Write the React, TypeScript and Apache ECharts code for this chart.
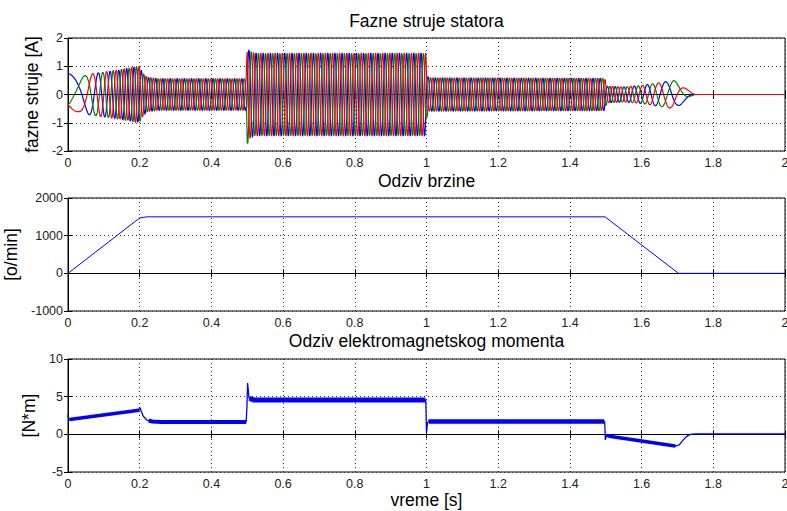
import React, { useEffect, useRef } from "react";
import * as echarts from "echarts";

// ---------- axes / ticks ----------
const xTickValues = [0, 0.2, 0.4, 0.6, 0.8, 1, 1.2, 1.4, 1.6, 1.8, 2];
const xTickLabels = ["0", "0.2", "0.4", "0.6", "0.8", "1", "1.2", "1.4", "1.6", "1.8", "2"];
const currentTicks = [-2, -1, 0, 1, 2];
const speedTicks = [-1000, 0, 1000, 2000];
const torqueTicks = [-5, 0, 5, 10];

// ---------- titles ----------
const titles = ["Fazne struje statora", "Odziv brzine", "Odziv elektromagnetskog momenta"];
const yNames = ["fazne struje [A]", "[o/min]", "[N*m]"];
const xName = "vreme [s]";

// ---------- stator currents ----------
// amplitude envelope of the phase currents [A]
const ampTime = [0, 0.03, 0.06, 0.1, 0.15, 0.19, 0.2, 0.205, 0.22, 0.25, 0.497, 0.5, 0.503, 0.52, 0.998, 1.0, 1.005, 1.497, 1.503, 1.55, 1.6, 1.65, 1.69, 1.71, 1.74, 1.75, 2];
const ampVal = [0.75, 0.6, 0.72, 0.8, 0.9, 1.0, 1.0, 0.85, 0.62, 0.57, 0.57, 1.85, 1.6, 1.48, 1.48, 0.9, 0.6, 0.58, 0.3, 0.27, 0.32, 0.42, 0.5, 0.35, 0.05, 0, 0];
// stator electrical frequency [Hz]
const freqTime = [0, 0.05, 0.1, 0.14, 0.2, 1.5, 1.55, 1.6, 1.65, 1.7, 1.74, 2];
const freqVal = [3, 12, 30, 45, 50, 50, 38, 27, 18, 10, 5, 5];
// phase shifts of the three phases (deg) and their colours
const phaseShift = [0, -120, 120];
const phaseColors = ["#0000ff", "#008000", "#ff0000"];
const phaseNames = ["ia", "ib", "ic"];

// ---------- speed [o/min] ----------
const speedTime = [0, 0.2, 0.22, 1.498, 1.703, 2];
const speedRpm = [0, 1470, 1500, 1500, 0, 0];

// ---------- electromagnetic torque [N*m] ----------
const torqueTime = [0, 0.001, 0.005, 0.198, 0.2, 0.205, 0.21, 0.22, 0.235, 0.26, 0.497, 0.499, 0.501, 0.505, 0.52, 0.998, 1.0, 1.003, 1.01, 1.497, 1.499, 1.502, 1.51, 1.695, 1.705, 1.715, 1.725, 1.735, 1.75, 2];
const torqueNm = [2.6, 2.2, 1.9, 3.2, 3.6, 3.0, 2.4, 1.9, 1.7, 1.65, 1.65, 3.5, 6.8, 4.8, 4.55, 4.55, 0.2, 1.6, 1.7, 1.7, -0.75, -0.1, -0.25, -1.55, -1.4, -0.8, -0.3, 0.0, 0.05, 0.05];
// time spans in which the torque shows switching ripple (drawn as a band) and its band height in px
const rippleSpans = [[0.004, 0.198], [0.225, 0.497], [0.506, 0.997], [1.006, 1.496], [1.504, 1.694]];
const rippleWidths = [3.5, 4, 5, 4.5, 3.5];

function interp(ts: number[], vs: number[], t: number): number {
  if (t <= ts[0]) return vs[0];
  for (let i = 1; i < ts.length; i++) {
    if (t <= ts[i]) {
      const f = (t - ts[i - 1]) / (ts[i] - ts[i - 1] || 1);
      return vs[i - 1] + f * (vs[i] - vs[i - 1]);
    }
  }
  return vs[vs.length - 1];
}

function buildCurrents(): number[][][] {
  const dt = 0.0004;
  const n = Math.round(2 / dt);
  const out: number[][][] = phaseShift.map(() => []);
  let theta = 0;
  for (let i = 0; i <= n; i++) {
    const t = i * dt;
    const a = interp(ampTime, ampVal, t);
    phaseShift.forEach((p, k) => {
      out[k].push([t, a * Math.cos(theta + (p * Math.PI) / 180)]);
    });
    theta += 2 * Math.PI * interp(freqTime, freqVal, t) * dt;
  }
  return out;
}

function rippleSpan(a: number, b: number): number[][] {
  const ts = [a, ...torqueTime.filter((t) => t > a && t < b), b];
  return ts.map((t) => [t, interp(torqueTime, torqueNm, t)]);
}

const FONT = "'Liberation Sans', Arial, Helvetica, sans-serif";

export default function App() {
  const ref = useRef<HTMLDivElement>(null);
  useEffect(() => {
    if (!ref.current) return;
    const chart = echarts.init(ref.current, undefined, { renderer: "svg" });
    const grids = [
      { left: 68, top: 38, width: 717, height: 113 },
      { left: 68, top: 198, width: 717, height: 113 },
      { left: 68, top: 359, width: 717, height: 113 },
    ];
    const yRanges = [currentTicks, speedTicks, torqueTicks];
    const nameGaps = [20, 39, 22];

    const xAxis: any[] = [];
    const yAxis: any[] = [];
    grids.forEach((_, gi) => {
      xAxis.push({
        type: "value",
        gridIndex: gi,
        position: "bottom",
        min: xTickValues[0],
        max: xTickValues[xTickValues.length - 1],
        interval: 0.2,
        axisLine: { show: true, lineStyle: { color: "#000", width: 1 } },
        axisTick: { show: true, inside: true, length: 4, lineStyle: { color: "#000" } },
        axisLabel: {
          show: true,
          margin: 5,
          fontSize: 12.5,
          fontFamily: FONT,
          color: "#222",
          showMinLabel: true,
          showMaxLabel: true,
          formatter: (v: number) => xTickLabels[Math.round(v / 0.2)] ?? "",
        },
        splitLine: { show: true, lineStyle: { color: "#333", width: 1, type: [1, 3] } },
      });
      xAxis.push({
        type: "value",
        gridIndex: gi,
        position: "top",
        min: xTickValues[0],
        max: xTickValues[xTickValues.length - 1],
        interval: 0.2,
        axisLine: { show: false },
        axisTick: { show: true, inside: true, length: 4, lineStyle: { color: "#000" } },
        axisLabel: { show: false },
        splitLine: { show: false },
      });
      const ticks = yRanges[gi];
      const yint = ticks[1] - ticks[0];
      yAxis.push({
        type: "value",
        gridIndex: gi,
        position: "left",
        min: ticks[0],
        max: ticks[ticks.length - 1],
        interval: yint,
        name: yNames[gi],
        nameLocation: "middle",
        nameGap: nameGaps[gi],
        nameTextStyle: { fontSize: 17.5, fontFamily: FONT, color: "#000" },
        axisLine: { show: true, lineStyle: { color: "#000", width: 1 } },
        axisTick: { show: true, inside: true, length: 4, lineStyle: { color: "#000" } },
        axisLabel: {
          show: true,
          margin: 5,
          fontSize: 12.5,
          fontFamily: FONT,
          color: "#222",
          showMinLabel: true,
          showMaxLabel: true,
          formatter: (v: number) => String(v),
        },
        splitLine: { show: true, lineStyle: { color: "#333", width: 1, type: [1, 3] } },
      });
      yAxis.push({
        type: "value",
        gridIndex: gi,
        position: "right",
        min: ticks[0],
        max: ticks[ticks.length - 1],
        interval: yint,
        axisLine: { show: false },
        axisTick: { show: true, inside: true, length: 4, lineStyle: { color: "#000" } },
        axisLabel: { show: false },
        splitLine: { show: false },
      });
    });

    const currents = buildCurrents();
    const series: any[] = [];
    currents.forEach((d, k) => {
      series.push({
        name: phaseNames[k],
        type: "line",
        xAxisIndex: 0,
        yAxisIndex: 0,
        data: d,
        showSymbol: false,
        symbol: "none",
        silent: true,
        lineStyle: { color: phaseColors[k], width: 1.2 },
        z: 3 + k,
      });
    });
    series.push({
      name: "brzina",
      type: "line",
      xAxisIndex: 2,
      yAxisIndex: 2,
      data: speedTime.map((t, i) => [t, speedRpm[i]]),
      showSymbol: false,
      symbol: "none",
      silent: true,
      lineStyle: { color: "#0000ff", width: 1 },
    });
    series.push({
      name: "moment",
      type: "line",
      xAxisIndex: 4,
      yAxisIndex: 4,
      data: torqueTime.map((t, i) => [t, torqueNm[i]]),
      showSymbol: false,
      symbol: "none",
      silent: true,
      lineStyle: { color: "#0000ff", width: 1.3 },
    });
    rippleSpans.forEach(([a, b], si) => {
      series.push({
        name: "moment-ripple-" + si,
        type: "line",
        xAxisIndex: 4,
        yAxisIndex: 4,
        data: rippleSpan(a, b),
        showSymbol: false,
        symbol: "none",
        silent: true,
        lineStyle: { color: "#0000ff", width: rippleWidths[si] },
      });
    });

    const titleY = [21, 181, 341];
    const graphic: any[] = titles.map((t, i) => ({
      type: "text",
      x: 426.5,
      y: titleY[i],
      style: {
        text: t,
        fontSize: 17.5,
        fontFamily: FONT,
        fill: "#000",
        textAlign: "center",
        textVerticalAlign: "middle",
      },
    }));
    graphic.push({
      type: "text",
      x: 426.5,
      y: 500,
      style: {
        text: xName,
        fontSize: 17.5,
        fontFamily: FONT,
        fill: "#000",
        textAlign: "center",
        textVerticalAlign: "middle",
      },
    });

    chart.setOption({
      animation: false,
      backgroundColor: "#fff",
      grid: grids.map((g) => ({
        ...g,
        show: true,
        borderColor: "#000",
        borderWidth: 1,
        backgroundColor: "#fff",
        containLabel: false,
        outerBoundsMode: "none",
      })),
      xAxis,
      yAxis,
      series,
      graphic,
    });
    return () => chart.dispose();
  }, []);
  return (
    <div
      ref={ref}
      style={{ position: "absolute", left: 0, top: 0, width: 787, height: 511, background: "#fff" }}
    />
  );
}
